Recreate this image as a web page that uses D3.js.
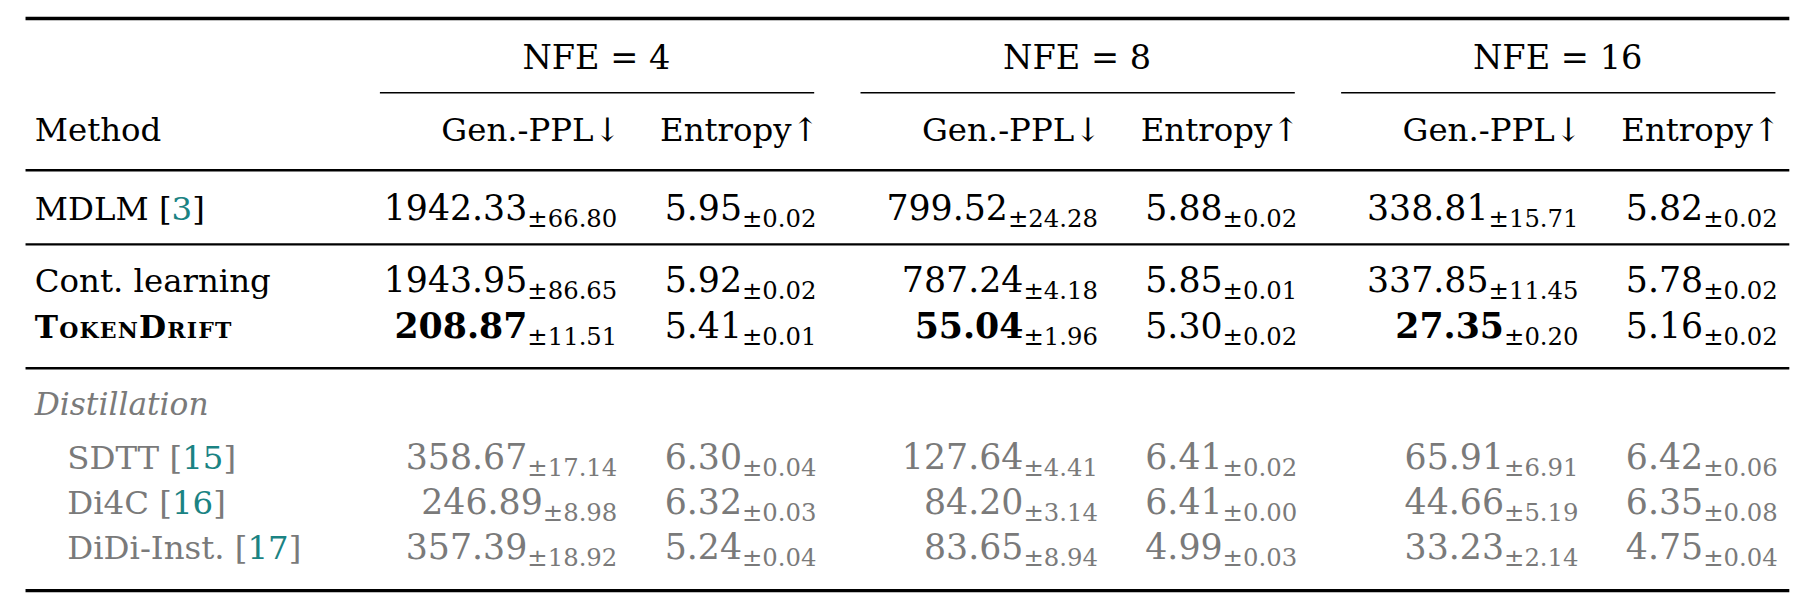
<!DOCTYPE html>
<html><head><meta charset="utf-8">
<script src="https://cdn.jsdelivr.net/npm/d3@7"></script>
<style>body{margin:0;background:#fff}text{font-family:"DejaVu Serif","Liberation Serif",serif}</style>
</head><body><svg id="t"></svg>
<script>
const nfe = [4, 8, 16];
const methods = ["MDLM", "Cont. learning", "TokenDrift", "SDTT", "Di4C", "DiDi-Inst."];
const cites = [3, null, null, 15, 16, 17];
const groups = ["main", "main", "ours", "dist", "dist", "dist"];
const genPPL = [["1942.33","799.52","338.81"],["1943.95","787.24","337.85"],["208.87","55.04","27.35"],["358.67","127.64","65.91"],["246.89","84.20","44.66"],["357.39","83.65","33.23"]];
const genStd = [["66.80","24.28","15.71"],["86.65","4.18","11.45"],["11.51","1.96","0.20"],["17.14","4.41","6.91"],["8.98","3.14","5.19"],["18.92","8.94","2.14"]];
const entropy = [["5.95","5.88","5.82"],["5.92","5.85","5.78"],["5.41","5.30","5.16"],["6.30","6.41","6.42"],["6.32","6.41","6.35"],["5.24","4.99","4.75"]];
const entStd = [["0.02","0.02","0.02"],["0.02","0.01","0.02"],["0.01","0.02","0.02"],["0.04","0.02","0.06"],["0.03","0.00","0.08"],["0.04","0.03","0.04"]];

const W = 1568, H = 525;
const svg = d3.select("#t").attr("width", 1816).attr("height", 608).attr("viewBox", `0 0 ${W} ${H}`);
const gray = "#7a7a7a", teal = "#1b8383";

// group centres and column right edges
const gx = d3.scalePoint().domain(nfe).range([515, 1345]);
const genRight = d => gx(d) + 18, entRight = d => gx(d) + 190;

function rule(y, x1, x2, w) {
  svg.append("line").attr("x1", x1).attr("x2", x2).attr("y1", y).attr("y2", y).attr("stroke", "#000").attr("stroke-width", w);
}
rule(16, 22, 1545, 3);
rule(147, 22, 1545, 2);
rule(211, 22, 1545, 2);
rule(318, 22, 1545, 2);
rule(510, 22, 1545, 3);

nfe.forEach(n => {
  svg.append("text").attr("x", gx(n)).attr("y", 60).attr("text-anchor", "middle").attr("font-size", 29).text(`NFE = ${n}`);
  rule(80, gx(n) - 187, gx(n) + 188, 1.3);
  svg.append("text").attr("x", genRight(n) + 3).attr("y", 122).attr("text-anchor", "end").attr("font-size", 28).text("Gen.-PPL↓");
  svg.append("text").attr("x", entRight(n) + 2).attr("y", 122).attr("text-anchor", "end").attr("font-size", 28).text("Entropy↑");
});
svg.append("text").attr("x", 30).attr("y", 122).attr("font-size", 28).text("Method");
svg.append("text").attr("x", 30).attr("y", 358).attr("font-size", 27).attr("font-style", "italic").attr("fill", gray).text("Distillation");

const rowY = [190, 252, 292, 405, 444, 483];

function cell(x, y, main, sd, fill, bold) {
  const t = svg.append("text").attr("x", x).attr("y", y).attr("text-anchor", "end").attr("font-size", 30).attr("fill", fill);
  t.append("tspan").attr("font-weight", bold ? "bold" : null).text(main);
  t.append("tspan").attr("font-size", 21).attr("dy", 6).text("±" + sd);
}

methods.forEach((m, i) => {
  const y = rowY[i];
  const fill = groups[i] === "dist" ? gray : "#000";
  const x = groups[i] === "dist" ? 58 : 30;
  const t = svg.append("text").attr("x", x).attr("y", y).attr("font-size", 28).attr("fill", fill);
  if (groups[i] === "ours") {
    t.attr("font-weight", "bold").attr("font-variant", "small-caps").attr("letter-spacing", 1).attr("font-size", 27).text(m);
  } else {
    t.append("tspan").text(m + (cites[i] ? " [" : ""));
    if (cites[i]) {
      t.append("tspan").attr("fill", teal).text(cites[i]);
      t.append("tspan").text("]");
    }
  }
  nfe.forEach((n, j) => {
    cell(genRight(n), y, genPPL[i][j], genStd[i][j], fill, groups[i] === "ours");
    cell(entRight(n), y, entropy[i][j], entStd[i][j], fill, false);
  });
});
</script></body></html>
